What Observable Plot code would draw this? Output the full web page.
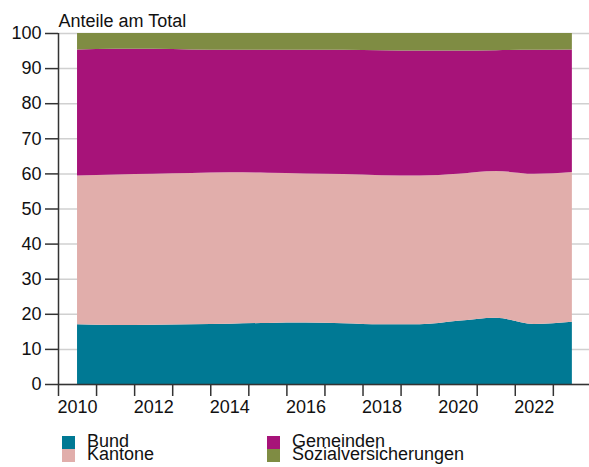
<!DOCTYPE html>
<html>
<head>
<meta charset="utf-8">
<script src="https://cdn.jsdelivr.net/npm/d3@7"></script>
<script src="https://cdn.jsdelivr.net/npm/@observablehq/plot@0.6"></script>
<style>
  body { margin: 0; background: #fff; font-family: "Liberation Sans", Arial, sans-serif; }
  #wrap { position: relative; width: 589px; height: 467px; overflow: hidden; }
  .sw { position: absolute; width: 13px; height: 13px; }
  .lt { position: absolute; font-size: 18px; line-height: 14px; height: 14px; color: #111; white-space: nowrap; }
</style>
</head>
<body>
<div id="wrap"></div>
<script>
const years = [2010, 2011, 2012, 2013, 2014, 2015, 2016, 2017, 2018, 2019, 2020, 2021, 2022, 2023];
const seriesNames = ["Bund", "Kantone", "Gemeinden", "Sozialversicherungen"];
const seriesColors = ["#007994", "#e1aeab", "#a71379", "#7f8c43"];
const bund = [17.0, 16.8, 16.9, 17.0, 17.2, 17.4, 17.5, 17.3, 17.0, 17.0, 18.0, 18.9, 17.1, 17.7];
const kantone = [42.4, 42.9, 43.0, 43.1, 43.1, 42.8, 42.5, 42.5, 42.5, 42.4, 41.9, 41.8, 42.8, 42.7];
const gemeinden = [35.9, 35.8, 35.6, 35.2, 34.9, 35.0, 35.2, 35.4, 35.6, 35.6, 35.1, 34.4, 35.3, 34.9];
const sozial = [4.7, 4.5, 4.5, 4.7, 4.8, 4.8, 4.8, 4.8, 4.9, 5.0, 5.0, 4.9, 4.8, 4.7];
const yTicks = [0, 10, 20, 30, 40, 50, 60, 70, 80, 90, 100];
const xLabelTicks = [2010, 2012, 2014, 2016, 2018, 2020, 2022];
const xTickMarks = [2009.5, 2010.5, 2011.5, 2012.5, 2013.5, 2014.5, 2015.5, 2016.5, 2017.5, 2018.5, 2019.5, 2020.5, 2021.5, 2022.5];
const title = "Anteile am Total";

const seriesValues = [bund, kantone, gemeinden, sozial];
const data = [];
seriesNames.forEach((s, i) => {
  years.forEach((yr, j) => data.push({year: yr, series: s, value: seriesValues[i][j]}));
});

const axisColor = "#333";
const chart = Plot.plot({
  width: 589,
  height: 420,
  marginLeft: 58,
  marginRight: 0,
  marginTop: 33,
  marginBottom: 36,
  style: {fontFamily: "Liberation Sans, Arial, sans-serif", fontSize: "18px", color: "#111", background: "#fff"},
  x: {domain: [2009.5, 2023.45], axis: null},
  y: {domain: [0, 100], axis: null},
  color: {domain: seriesNames, range: seriesColors},
  marks: [
    Plot.gridY(yTicks, {stroke: "#d0d0d0", strokeOpacity: 1, strokeWidth: 1.5}),
    Plot.areaY(data, {x: "year", y: "value", fill: "series", order: seriesNames, curve: "monotone-x"}),
    Plot.axisY({ticks: yTicks, tickSize: 13, tickPadding: 4, stroke: axisColor, strokeWidth: 1.5, label: null, fontSize: 18}),
    Plot.axisX({ticks: xTickMarks, tickSize: 12, tickFormat: () => "", stroke: axisColor, strokeWidth: 1.5, label: null}),
    Plot.axisX({ticks: xLabelTicks, tickSize: 0, tickPadding: 16, tickFormat: d => String(d), label: null, fontSize: 18}),
    Plot.ruleX([2009.5], {y1: 0, y2: 100, stroke: axisColor, strokeWidth: 1.5}),
    Plot.ruleY([0], {stroke: axisColor, strokeWidth: 1.5}),
    Plot.text([title], {frameAnchor: "top-left", textAnchor: "start", lineAnchor: "bottom", dy: -7, fontSize: 18, fill: "#111"})
  ]
});
const wrap = document.getElementById("wrap");
wrap.appendChild(chart);

const legendPos = [
  {x: 62, y: 436}, {x: 62, y: 449}, {x: 267, y: 436}, {x: 267, y: 449}
];
seriesNames.forEach((s, i) => {
  const sw = document.createElement("div");
  sw.className = "sw";
  sw.style.left = legendPos[i].x + "px";
  sw.style.top = legendPos[i].y + "px";
  sw.style.background = seriesColors[i];
  wrap.appendChild(sw);
  const t = document.createElement("div");
  t.className = "lt";
  t.textContent = s;
  t.style.left = (legendPos[i].x + 25) + "px";
  t.style.top = (legendPos[i].y - 2) + "px";
  wrap.appendChild(t);
});
</script>
</body>
</html>
